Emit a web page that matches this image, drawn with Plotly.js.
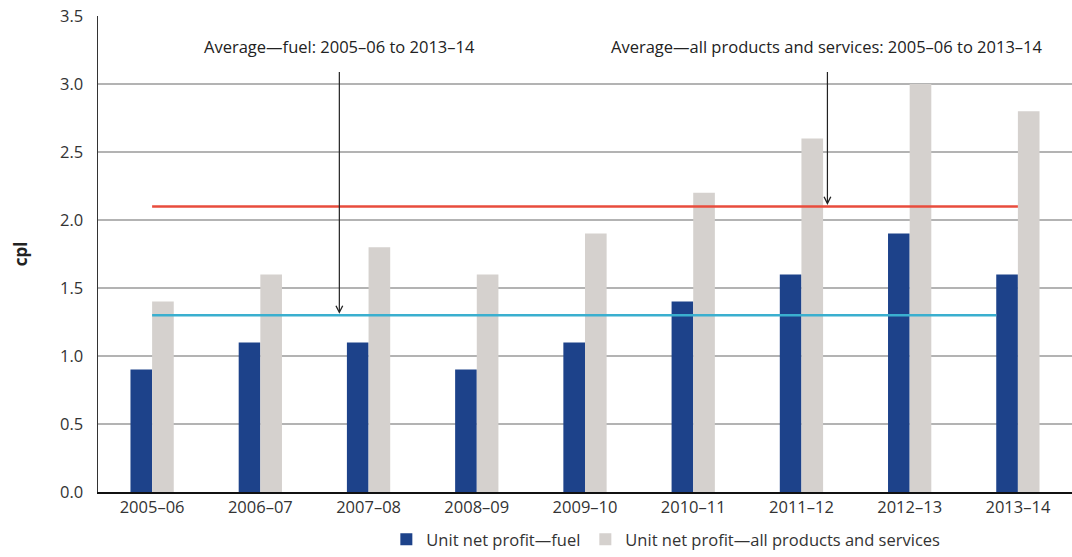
<!DOCTYPE html>
<html>
<head>
<meta charset="utf-8">
<script src="https://cdn.plot.ly/plotly-3.0.1.min.js"></script>
<style>html,body{margin:0;padding:0;background:#fff;}#chart{width:1072px;height:557px;}</style>
</head>
<body>
<div id="chart"></div>
<script>
const years = ['2005–06','2006–07','2007–08','2008–09','2009–10','2010–11','2011–12','2012–13','2013–14'];
const fuelProfit = [0.9, 1.1, 1.1, 0.9, 1.1, 1.4, 1.6, 1.9, 1.6];
const allProfit = [1.4, 1.6, 1.8, 1.6, 1.9, 2.2, 2.6, 3.0, 2.8];
const avgFuel = 1.3;
const avgAll = 2.1;
const seriesNames = ['Unit net profit—fuel', 'Unit net profit—all products and services'];
const avgLabels = ['Average—fuel: 2005–06 to 2013–14', 'Average—all products and services: 2005–06 to 2013–14'];

const FONT = 'Open Sans, Lato, sans-serif';
const FS = 16.5;
const traces = [
  {type:'bar', x: years, y: fuelProfit, name: seriesNames[0], marker:{color:'#1D428A'}},
  {type:'bar', x: years, y: allProfit, name: seriesNames[1], marker:{color:'#D5D1CE'}}
];
const last = years.length - 1;
const layout = {
  width:1072, height:557,
  margin:{l:98, r:0, t:16, b:65},
  paper_bgcolor:'#fff', plot_bgcolor:'#fff',
  font:{family:FONT, size:FS, color:'#333'},
  barmode:'group', bargap:0.6, bargroupgap:0,
  showlegend:true,
  legend:{orientation:'h', x:0.583, xanchor:'center', y:-0.1366, yanchor:'bottom', font:{size:FS, color:'#333'}, traceorder:'normal'},
  xaxis:{type:'category', showline:true, linecolor:'#111', linewidth:1.5, ticks:'', showgrid:false, tickfont:{size:FS, color:'#333'}, range:[-0.5, last+0.5]},
  yaxis:{range:[0,3.5], dtick:0.5, tickformat:'.1f', showline:true, linecolor:'#333', linewidth:1.5, showgrid:true, gridcolor:'#b3b3b3', gridwidth:1.2, zeroline:false, ticks:'', ticklen:0, ticklabelstandoff:10, tickfont:{size:FS, color:'#333'},
    title:{text:'<b>cpl</b>', font:{size:17, color:'#222'}, standoff:28}},
  shapes:[
    {type:'line', xref:'x', yref:'y', x0:0, x1:last, y0:avgAll, y1:avgAll, line:{color:'#E84C3D', width:2.5}, layer:'above'},
    {type:'line', xref:'x', yref:'y', x0:0, x1:last-0.2, y0:avgFuel, y1:avgFuel, line:{color:'#3AAFCF', width:2.5}, layer:'above'}
  ],
  annotations:[
    {xref:'x', yref:'paper', x:1.73, y:0.935, text:avgLabels[0], showarrow:false, yanchor:'middle', font:{size:FS, color:'#222'}},
    {xref:'x', yref:'paper', x:6.24, y:0.935, text:avgLabels[1], showarrow:false, yanchor:'middle', font:{size:FS, color:'#222'}},
    {xref:'x', yref:'y', x:1.73, y:avgFuel+0.01, ax:1.73, ay:3.1, axref:'x', ayref:'y', text:'', showarrow:true, arrowhead:5, arrowsize:1.1, arrowwidth:1.2, arrowcolor:'#222'},
    {xref:'x', yref:'y', x:6.24, y:avgAll+0.01, ax:6.24, ay:3.1, axref:'x', ayref:'y', text:'', showarrow:true, arrowhead:5, arrowsize:1.1, arrowwidth:1.2, arrowcolor:'#222'}
  ]
};
Plotly.newPlot('chart', traces, layout, {displayModeBar:false, staticPlot:true});
</script>
</body>
</html>
